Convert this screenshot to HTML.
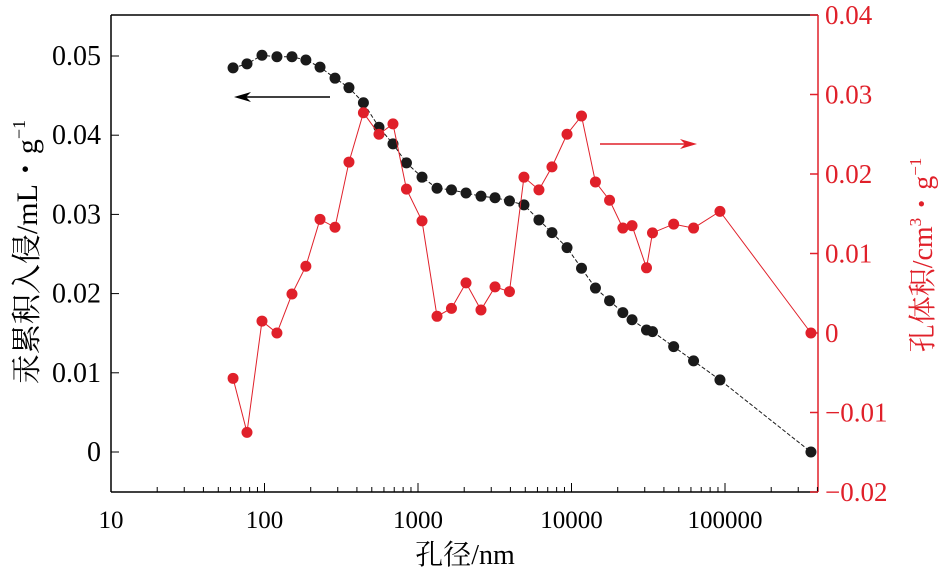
<!DOCTYPE html>
<html><head><meta charset="utf-8">
<style>
html,body{margin:0;padding:0;background:#fff;}
svg{display:block;font-family:"Liberation Serif","Noto Serif CJK SC",serif;}
</style></head>
<body>
<svg id="chart" width="943" height="576" viewBox="0 0 943 576" xmlns="http://www.w3.org/2000/svg">
</svg>
<script>
const poreSizes=[62.4,76.9,96.3,120.5,151,186,230,288,355,441,557,687,841,1062,1330,1652,2055,2572,3175,3943,4900,6137,7460,9350,11620,14320,17700,21600,24800,30800,33700,46300,62400,92700,363000];
const mercuryIntrusion=[0.0485,0.0490,0.0501,0.0499,0.0499,0.0495,0.0486,0.0472,0.0460,0.0441,0.0410,0.0389,0.0365,0.0347,0.0333,0.0331,0.0327,0.0323,0.0321,0.0317,0.0312,0.0293,0.0277,0.0258,0.0232,0.0207,0.0191,0.0176,0.0167,0.0154,0.0152,0.0133,0.0115,0.0091,0];
const poreVolume=[-0.0057,-0.0125,0.0015,0,0.0049,0.0084,0.0143,0.0133,0.0215,0.0277,0.0250,0.0263,0.0181,0.0141,0.0021,0.0031,0.0063,0.0029,0.0058,0.0052,0.0196,0.0180,0.0209,0.0250,0.0273,0.0190,0.0167,0.0132,0.0135,0.0082,0.0126,0.0137,0.0132,0.0153,0];
const xTicks=[10,100,1000,10000,100000];
const xTickLabels=["10","100","1000","10000","100000"];
const leftTicks=[0,0.01,0.02,0.03,0.04,0.05];
const leftTickLabels=["0","0.01","0.02","0.03","0.04","0.05"];
const rightTicks=[-0.02,-0.01,0,0.01,0.02,0.03,0.04];
const rightTickLabels=["\u22120.02","\u22120.01","0","0.01","0.02","0.03","0.04"];

const L=111,R=818,T=15,B=492;
const RED="#e0202a";
const xs=v=>L+(Math.log10(v)-1)*153.5;
const yl=v=>452-v*7920;
const yr=v=>333-v*7950;
const svg=document.getElementById('chart');
const NS="http://www.w3.org/2000/svg";
function mk(tag,attrs,parent){const e=document.createElementNS(NS,tag);for(const k in attrs)e.setAttribute(k,attrs[k]);(parent||svg).appendChild(e);return e;}

let e;
e=mk('line',{x1:L,y1:T,x2:L,y2:B,stroke:'#000','stroke-width':1.5});


e=mk('line',{x1:L,y1:T,x2:R,y2:T,stroke:'#000','stroke-width':1.5});


e=mk('line',{x1:L,y1:B,x2:R,y2:B,stroke:'#000','stroke-width':1.5});


e=mk('line',{x1:R,y1:T,x2:R,y2:B,stroke:RED,'stroke-width':1.5});



for(let d=1;d<=5;d++){
  for(let m=1;m<10;m++){
    const v=Math.pow(10,d)*m; const x=xs(v); if(x>R)break;
    e=mk('line',{x1:x,y1:B,x2:x,y2:B-(m===1?9:5),stroke:'#000','stroke-width':1});
    
    
  }
}
xTicks.forEach((v,i)=>{
  e=mk('text',{x:xs(v),y:528,'text-anchor':'middle','font-size':25,fill:'#000'});
  e.textContent=xTickLabels[i];
  
  
});
leftTicks.forEach((v,i)=>{
  e=mk('line',{x1:L,y1:yl(v),x2:L+8,y2:yl(v),stroke:'#000','stroke-width':1});
  
  
  e=mk('text',{x:101,y:yl(v)+9,'text-anchor':'end','font-size':28,fill:'#000'});
  e.textContent=leftTickLabels[i];
  
  
});
rightTicks.forEach((v,i)=>{
  e=mk('line',{x1:R,y1:yr(v),x2:R-8,y2:yr(v),stroke:RED,'stroke-width':1.5});
  
  
  e=mk('text',{x:825,y:yr(v)+9,'text-anchor':'start','font-size':27,fill:RED});
  e.textContent=rightTickLabels[i];
  
  
});

function series(vals,yf,color,name,dash){
  const pts=poreSizes.map((x,i)=>xs(x)+','+yf(vals[i])).join(' ');
  const a={points:pts,fill:'none',stroke:color,'stroke-width':1};
  if(dash)a['stroke-dasharray']=dash;
  e=mk('polyline',a);
  
  
  vals.forEach((v,i)=>{
    e=mk('circle',{cx:xs(poreSizes[i]),cy:yf(v),r:5.5,fill:color});
    
    
  });
}
series(mercuryIntrusion,yl,'#1a1a1a','mercury-intrusion','4,2');
series(poreVolume,yr,RED,'pore-volume');

e=mk('line',{x1:330,y1:97,x2:240,y2:97,stroke:'#000','stroke-width':1.5});


e=mk('polygon',{points:'234,97 251,92 246,97 251,102',fill:'#000'});


e=mk('line',{x1:600,y1:144,x2:690,y2:144,stroke:RED,'stroke-width':1.5});


e=mk('polygon',{points:'697,144 680,139 685,144 680,149',fill:RED});



e=mk('text',{x:465,y:564,'text-anchor':'middle','font-size':28,fill:'#000'});
e.textContent='孔径/nm';


e=mk('text',{x:0,y:0,'text-anchor':'middle','font-size':30,fill:'#000',transform:'translate(37,252) rotate(-90)'});
e.innerHTML='汞累积入侵/mL・g<tspan dy="-12" font-size="18">−1</tspan>';


e=mk('text',{x:0,y:0,'text-anchor':'middle','font-size':28,fill:RED,transform:'translate(932,255) rotate(-90)'});
e.innerHTML='孔体积/cm<tspan dy="-11" font-size="17">3</tspan><tspan dy="11">・g</tspan><tspan dy="-11" font-size="17">−1</tspan>';


</script>
</body></html>
